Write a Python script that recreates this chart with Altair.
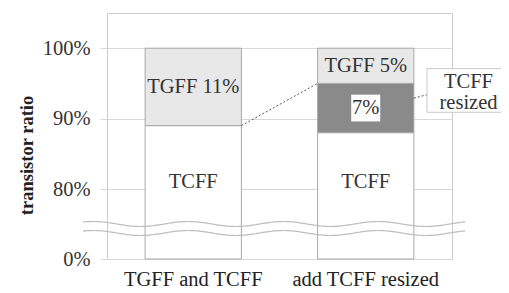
import altair as alt
import pandas as pd
import numpy as np

categories = ["TGFF and TCFF", "add TCFF resized"]
series = ["TCFF", "TCFF resized", "TGFF"]
values_bar1 = [89, 0, 11]
values_bar2 = [88, 7, 5]
seg_labels_bar1 = ["TCFF", "", "TGFF 11%"]
seg_labels_bar2 = ["TCFF", "7%", "TGFF 5%"]
y_ticks = [0, 80, 90, 100]

FONT = "Liberation Serif"
FS = 20.5
H = 246
W = 345

rows = []
for cat, vals, labs in [(categories[0], values_bar1, seg_labels_bar1),
                        (categories[1], values_bar2, seg_labels_bar2)]:
    start = 0
    for s, v, lab in zip(series, vals, labs):
        if v > 0:
            mid = start + v / 2
            if s == "TCFF":
                mid = 81
            rows.append(dict(cat=cat, series=s, start=start, end=start + v, label=lab, mid=mid))
        start += v
df = pd.DataFrame(rows)

yscale = alt.Scale(domain=[0, 80, 105], range=[H, 176, 0], nice=False, zero=False)
xscale = alt.Scale(domain=categories, paddingInner=0.442, paddingOuter=0.221)

xenc = alt.X("cat:N", scale=xscale, sort=categories,
             axis=alt.Axis(title=None, labelAngle=0, ticks=False, domain=False,
                           labelFont=FONT, labelFontSize=FS, labelColor="#222",
                           labelPadding=10, grid=False))

bars = alt.Chart(df).mark_bar(stroke="#a8a8a8", strokeWidth=1).encode(
    x=xenc,
    y=alt.Y("start:Q", scale=yscale,
            axis=alt.Axis(values=y_ticks, labelExpr="datum.value + '%'",
                          title="transistor ratio", titleFont=FONT, titleFontSize=18.5,
                          titleFontWeight="bold", titleColor="#222",
                          titleX=-81, titleY=142, titleAngle=-90,
                          titleAlign="center", titleBaseline="middle",
                          labelFont=FONT, labelFontSize=FS, labelColor="#333",
                          tickSize=7, tickColor="#d8d8d8", labelPadding=10,
                          domain=False, grid=True, gridColor="#d8d8d8")),
    y2="end:Q",
    fill=alt.Fill("series:N", scale=alt.Scale(domain=series,
                  range=["#ffffff", "#8a8a8a", "#e8e8e8"]), legend=None),
)

# white box behind "7%"
box7 = alt.Chart(df[df.series == "TCFF resized"]).mark_bar(
    width=29, fill="white", stroke=None).encode(
    x=alt.X("cat:N", scale=xscale, sort=categories),
    y=alt.Y("a:Q", scale=yscale), y2="b:Q",
).transform_calculate(a="datum.mid - 1.9", b="datum.mid + 1.9")

labels = alt.Chart(df[df.label != ""]).mark_text(
    font=FONT, fontSize=FS, color="#333", baseline="middle").encode(
    x=alt.X("cat:N", scale=xscale, sort=categories),
    y=alt.Y("mid:Q", scale=yscale),
    text="label:N",
)

# series connector (dashed)
conn = pd.DataFrame([dict(c1=categories[0], c2=categories[1],
                          y1=values_bar1[0], y2=values_bar2[0] + values_bar2[1])])
connector = alt.Chart(conn).mark_rule(strokeDash=[2, 2], color="#555", strokeWidth=1).encode(
    x=alt.X("c1:N", scale=xscale, sort=categories, bandPosition=1),
    x2=alt.X2("c2:N", bandPosition=0),
    y=alt.Y("y1:Q", scale=yscale), y2="y2:Q",
)

# callout for "TCFF resized"
call = pd.DataFrame([dict(c=categories[1], ya=92.9, yb=93.4, top=97.1, bot=90.9)])
leader = alt.Chart(call).mark_rule(strokeDash=[2, 2], color="#555").encode(
    x=alt.X("c:N", scale=xscale, sort=categories, bandPosition=1),
    x2=alt.value(320),
    y=alt.Y("ya:Q", scale=yscale), y2="yb:Q",
)
callbox = alt.Chart(call).mark_rect(fill="white", stroke="#c8c8c8").encode(
    x=alt.value(320), x2=alt.value(406),
    y=alt.Y("top:Q", scale=yscale), y2="bot:Q",
)
call_text = pd.DataFrame([dict(t="TCFF", y=95.2), dict(t="resized", y=92.2)])
calltxt = alt.Chart(call_text).mark_text(font=FONT, fontSize=FS, color="#333",
                                         baseline="middle").encode(
    x=alt.value(361.5), y=alt.Y("y:Q", scale=yscale), text="t:N")

# axis-break wavy lines (decoration)
xs = np.arange(-24, 360, 2)
wave_rows = []
for name, base in [("a", 211), ("b", 220)]:
    for xv in xs:
        wave_rows.append(dict(w=name, px=float(xv), py=float(base + 2.5 * np.sin((xv - 10) * 2 * np.pi / 95))))
waves = alt.Chart(pd.DataFrame(wave_rows)).mark_line(color="#bdbdbd", strokeWidth=1.2).encode(
    x=alt.X("px:Q", scale=None), y=alt.Y("py:Q", scale=None), detail="w:N")

chart = alt.layer(bars, box7, labels, connector, leader, callbox, calltxt, waves).properties(
    width=W, height=H,
    autosize=alt.AutoSizeParams(type="none"),
    padding={"left": 99, "top": 5, "right": 49, "bottom": 30},
).configure(background="white").configure_view(stroke="#cccccc", strokeWidth=1)

chart.save("out.html", embed_options={"renderer": "svg", "actions": False})
